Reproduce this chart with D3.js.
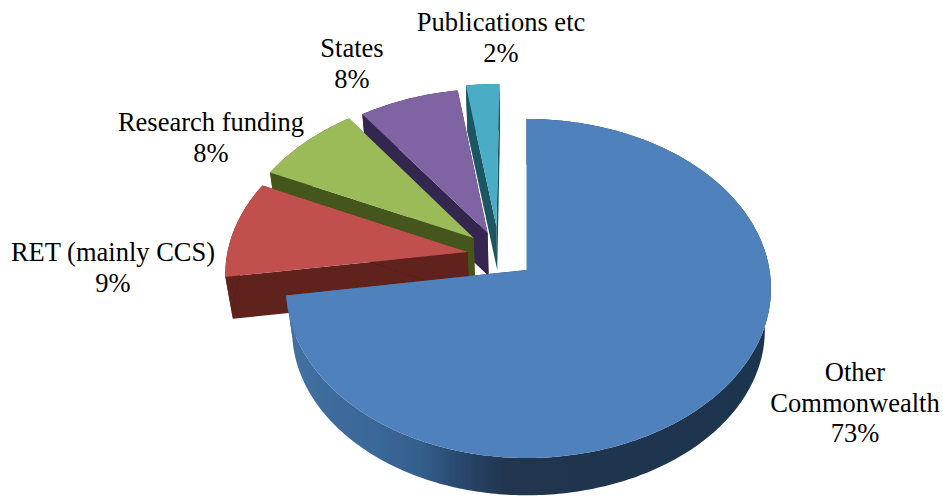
<!DOCTYPE html>
<html>
<head>
<meta charset="utf-8">
<style>html,body{margin:0;padding:0;background:#fff}svg{display:block}</style>
<script src="https://cdnjs.cloudflare.com/ajax/libs/d3/7.8.5/d3.min.js"></script>
</head>
<body>
<svg id="chart" width="943" height="497"></svg>
<script>
// data
const categories = ["Other Commonwealth", "RET (mainly CCS)", "Research funding", "States", "Publications etc"];
const values = [72.6, 9.4, 8, 7.5, 2.5];
const percentLabels = ["73%", "9%", "8%", "8%", "2%"];

// styling
const topColors  = ["#4f81bd", "#c0504d", "#9bbb59", "#8064a2", "#4bacc6"];
const wallColors = ["url(#blueWall)", "#5e201c", "#44571f", "#35264f", "#1b5663"];

// exploded offset of each slice on the pie's plane (unit-disc coordinates)
const explodeU = [0, -0.245, -0.222, -0.164, -0.127];
const explodeV = [0, -0.1087, -0.195, -0.226, -0.264];
// horizontal radius on the left of the pie, per slice
const leftRadius = [239, 243, 243, 243, 243];

// label layout: centre x and the baseline of the first line
const labelLines = [["Other", "Commonwealth", "73%"], ["RET (mainly CCS)", "9%"], ["Research funding", "8%"], ["States", "8%"], ["Publications etc", "2%"]];
const labelX = [855, 113, 211, 352, 501];
const labelY = [381, 261, 131, 57, 31];
const lineGap = 30.5;

// projection of the tilted disc
const cx = 526.5, cy = 270, Rright = 243, H = 167.5, persp = 0.109, depth = 42, shrink = 0.975;
function project(u, v, lower, i) {
  const s = 1 / (1 - persp * v);
  let X = (u < 0 ? leftRadius[i] : Rright) * u * s, Y = H * v * s;
  if (lower) { X *= shrink; Y = Y * shrink + depth; }
  return [cx + X, cy + Y];
}

const svg = d3.select("#chart");
const defs = svg.append("defs");
const grad = defs.append("linearGradient").attr("id", "blueWall")
  .attr("gradientUnits", "userSpaceOnUse").attr("x1", 290).attr("x2", 771).attr("y1", 0).attr("y2", 0);
[[0, "#41709f"], [0.17, "#3a6899"], [0.27, "#355f8d"], [0.345, "#2a4a70"], [0.45, "#20344f"], [1, "#1f3450"]]
  .forEach(d => grad.append("stop").attr("offset", d[0]).attr("stop-color", d[1]));
defs.append("filter").attr("id", "soft").append("feGaussianBlur").attr("stdDeviation", 0.45);

const pie = d3.pie().sort(null).value(d => d).startAngle(0).endAngle(2 * Math.PI);
const arcs = pie(values);
const line = d3.line();

function rimPoints(arc, i, lower) {
  const n = Math.max(4, Math.ceil((arc.endAngle - arc.startAngle) / 0.015));
  return d3.range(n + 1).map(k => {
    const a = arc.startAngle + (arc.endAngle - arc.startAngle) * k / n;
    return project(explodeU[i] + Math.sin(a), explodeV[i] - Math.cos(a), lower, i);
  });
}

const root = svg.append("g").attr("filter", "url(#soft)");
// painter's order: the back slices first
d3.range(arcs.length).reverse().forEach(i => {
  const arc = arcs[i];
  const g = root.append("g").attr("class", "slice");
  const topRim = rimPoints(arc, i, false), lowRim = rimPoints(arc, i, true);
  const apexT = project(explodeU[i], explodeV[i], false, i), apexL = project(explodeU[i], explodeV[i], true, i);
  const n = topRim.length - 1;
  const faces = [
    [apexT, topRim[0], lowRim[0], apexL],
    [apexT, topRim[n], lowRim[n], apexL],
    topRim.concat(lowRim.slice().reverse())
  ];
  g.selectAll("path.wall").data(faces).join("path").attr("class", "wall")
    .attr("d", d => line(d) + "Z").attr("fill", wallColors[i]);
  g.append("path").attr("class", "top")
    .attr("d", line([apexT].concat(topRim)) + "Z").attr("fill", topColors[i]);
});

// labels
const lab = svg.append("g").attr("font-family", "'Liberation Serif','Times New Roman',serif")
  .attr("font-size", 26.5).attr("fill", "#000").attr("text-anchor", "middle");
labelLines.forEach((lines, i) => {
  lines.forEach((t, j) => {
    lab.append("text").attr("x", labelX[i]).attr("y", labelY[i] + j * lineGap).text(t);
  });
});
</script>
</body>
</html>
